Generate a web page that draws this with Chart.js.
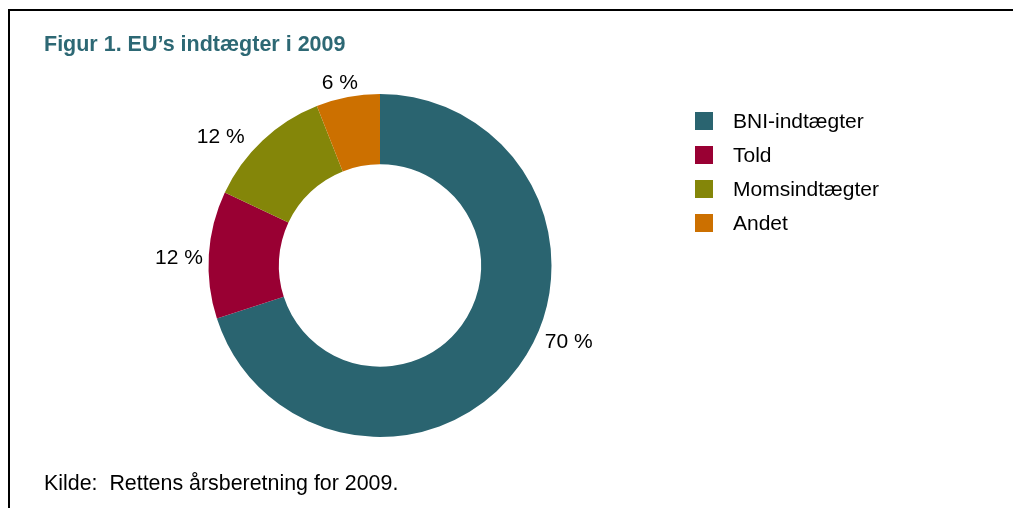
<!DOCTYPE html>
<html>
<head>
<meta charset="utf-8">
<script src="https://cdn.jsdelivr.net/npm/chart.js@4.4.0/dist/chart.umd.min.js"></script>
<style>
  body { margin: 0; background: #fff; font-family: "Liberation Sans", Arial, sans-serif; }
  #wrap { position: relative; width: 1013px; height: 508px; overflow: hidden; }
  #frame { position: absolute; left: 8px; top: 9px; right: -10px; bottom: -10px;
           border-top: 2px solid #000; border-left: 2px solid #000; }
  #title { position: absolute; left: 44px; top: 31px; font-size: 21.5px; line-height: 26px; font-weight: bold; color: #2d6874; }
  #source { position: absolute; left: 44px; top: 470px; font-size: 21.4px; line-height: 26px; color: #000; }
  canvas { position: absolute; left: 0; top: 0; }
</style>
</head>
<body>
<div id="wrap">
  <div id="frame"></div>
  <canvas id="myChart" width="1013" height="508"></canvas>
  <div id="title">Figur 1. EU’s indtægter i 2009</div>
  <div id="source">Kilde:&nbsp; Rettens årsberetning for 2009.</div>
</div>
<script>
const labels = ['BNI-indtægter', 'Told', 'Momsindtægter', 'Andet'];
const values = [70, 12, 12, 6];
const valueLabels = ['70 %', '12 %', '12 %', '6 %'];
const colors = ['#2a6470', '#990033', '#848609', '#cc7000'];
// small nudges for the percent labels (Excel-like placement)
const labelNudge = [[24, -43], [2, 5], [-20, 20], [-2, 18]];

const labelPlugin = {
  id: 'outsideLabels',
  afterDraw(chart) {
    const c = chart.ctx;
    const arcs = chart.getDatasetMeta(0).data;
    c.save();
    c.font = '21px "Liberation Sans", Arial, sans-serif';
    c.fillStyle = '#000';
    c.textAlign = 'center';
    c.textBaseline = 'middle';
    arcs.forEach((arc, i) => {
      const mid = (arc.startAngle + arc.endAngle) / 2;
      const r = arc.outerRadius + 32;
      const x = arc.x + Math.cos(mid) * r + labelNudge[i][0];
      const y = arc.y + Math.sin(mid) * r + labelNudge[i][1];
      c.fillText(valueLabels[i], x, y);
    });

    // legend
    c.textAlign = 'left';
    labels.forEach((lab, i) => {
      const y = 121 + i * 34;
      c.fillStyle = colors[i];
      c.fillRect(695, y - 9, 18, 18);
      c.fillStyle = '#000';
      c.fillText(lab, 733, y + 1);
    });
    c.restore();
  }
};

const ctx = document.getElementById('myChart').getContext('2d');
new Chart(ctx, {
  type: 'doughnut',
  data: {
    labels: labels,
    datasets: [{
      data: values,
      backgroundColor: colors,
      borderWidth: 0
    }]
  },
  options: {
    responsive: false,
    animation: false,
    cutout: '59%',
    layout: { padding: { left: 208, right: 461, top: 94, bottom: 71 } },
    plugins: {
      legend: { display: false },
      tooltip: { enabled: false }
    }
  },
  plugins: [labelPlugin]
});
</script>
</body>
</html>
